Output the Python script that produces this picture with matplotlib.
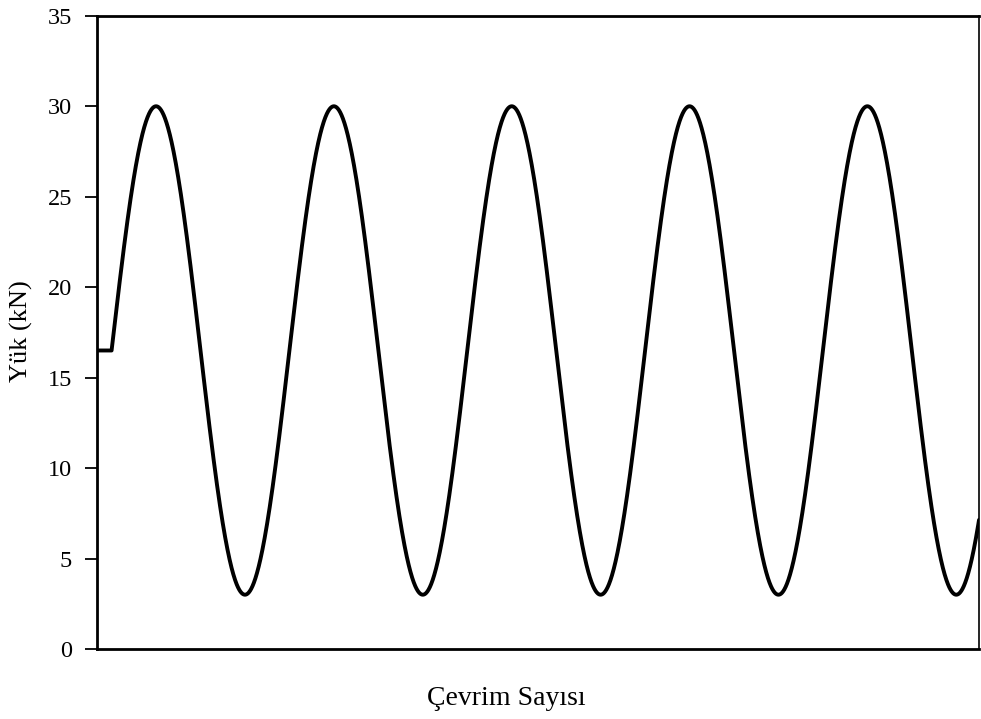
import numpy as np
import matplotlib
matplotlib.use("Agg")
import matplotlib.pyplot as plt

# Cyclic load record: constant preload, then sinusoidal loading
preload_kN = 16.5          # initial hold level
load_max_kN = 30.0         # peak load in each cycle
load_min_kN = 3.0          # minimum load in each cycle
hold_cycles = 0.082        # duration of the initial hold (in cycles)
total_cycles = 4.96        # length of the record shown (in cycles)

y_ticks = [0, 5, 10, 15, 20, 25, 30, 35]

mean = 0.5 * (load_max_kN + load_min_kN)
amp = 0.5 * (load_max_kN - load_min_kN)

t = np.linspace(0, total_cycles, 4000)
load = np.where(t < hold_cycles, preload_kN,
                mean + amp * np.sin(2 * np.pi * (t - hold_cycles)))

plt.rcParams['font.family'] = ['Liberation Serif', 'DejaVu Serif']

fig = plt.figure(figsize=(9.81, 7.19), dpi=100)
ax = fig.add_axes([0.0989, 0.0974, 0.8991, 0.8806])

ax.plot(t, load, color='black', lw=2.8, solid_capstyle='round')

ax.set_xlim(0, total_cycles)
ax.set_ylim(0, 35)
ax.set_yticks(y_ticks)
ax.set_xticks([])
ax.tick_params(axis='y', direction='out', length=9, width=1.3, labelsize=17.5, pad=9)

for side in ['left', 'bottom', 'top']:
    ax.spines[side].set_linewidth(2.0)
ax.spines['right'].set_linewidth(1.2)

fig.text(0.0214, 0.54, 'Yük (kN)', rotation=90, fontsize=19,
         ha='center', va='center')
fig.text(0.516, 0.029, 'Çevrim Sayısı', fontsize=20,
         ha='center', va='center')

fig.savefig('out.png', dpi=100, facecolor='white')
